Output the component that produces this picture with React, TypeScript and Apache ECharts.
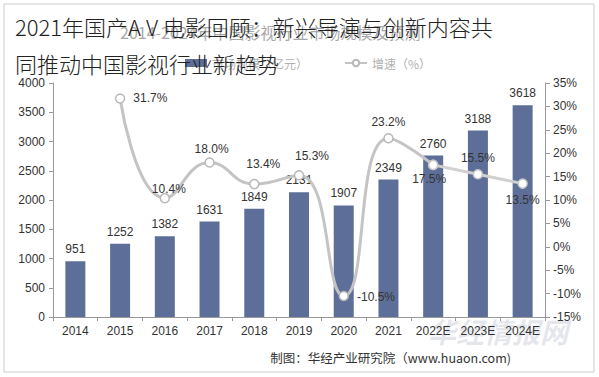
import React, { useEffect, useRef } from "react";
import * as echarts from "echarts";

const categories = ["2014", "2015", "2016", "2017", "2018", "2019", "2020", "2021", "2022E", "2023E", "2024E"];
const marketSize = [951, 1252, 1382, 1631, 1849, 2131, 1907, 2349, 2760, 3188, 3618];
const growthActual = [null, 31.7, 10.4, 18.0, 13.4, 15.3, -10.5, 23.2, 17.5, null, null];
const growthForecast = [null, null, null, null, null, null, null, null, 17.5, 15.5, 13.5];

// label placement per point (style only)
const actualLabelPlace: any[] = [
  null,
  { position: "right", distance: 8, offset: [0, 0] },
  { position: "top", offset: [4, 7] },
  { position: "top", offset: [2, 3] },
  { position: "top", offset: [9, -4] },
  { position: "top", offset: [13, -3] },
  { position: "right", distance: 8, offset: [0, 1] },
  { position: "top", offset: [0, 0] },
  { position: "bottom", offset: [-4, -2] },
  null,
  null,
];
const forecastLabelPlace: any[] = [
  null, null, null, null, null, null, null, null,
  { show: false },
  { position: "top", offset: [0, 0] },
  { position: "bottom", offset: [0, 0] },
];

const NUM_FONT = "'Liberation Sans', Arial, sans-serif";
const CJK_FONT = "'Noto Sans CJK SC', 'Noto Sans', sans-serif";

export default function App() {
  const ref = useRef<HTMLDivElement>(null);
  useEffect(() => {
    if (!ref.current) return;
    const chart = echarts.init(ref.current, null, { renderer: "svg" });
    const fmt = (p: any) => (p.value == null ? "" : Number(p.value).toFixed(1) + "%");
    const mk = (vals: any[], places: any[]) =>
      vals.map((v, i) =>
        v == null
          ? null
          : { value: v, label: { show: true, ...(places[i] || {}) } }
      );
    chart.setOption({
      animation: false,
      backgroundColor: "#ffffff",
      textStyle: { fontFamily: NUM_FONT },
      title: [
        {
          text: "2014-2024年中国影视行业市场规模及预测",
          left: 115,
          top: 19,
          textStyle: { fontSize: 16, color: "#a8a8a8", fontWeight: "normal", fontFamily: CJK_FONT },
        },
        {
          text: "2021年国产A V 电影回顾：新兴导演与创新内容共\n同推动中国影视行业新趋势",
          left: 10,
          top: 2,
          textStyle: {
            fontSize: 22,
            lineHeight: 37,
            color: "#222222",
            fontWeight: 300,
            fontFamily: CJK_FONT,
          },
        },
      ],
      legend: {
        left: 180,
        top: 52,
        itemGap: 36,
        itemWidth: 22,
        itemHeight: 8,
        textStyle: { fontSize: 12, color: "#b0b0b0", fontFamily: CJK_FONT },
        data: [
          { name: "市场规模（亿元）", icon: "rect" },
          { name: "增速（%）" },
        ],
      },
      grid: { left: 53, right: 54, top: 83, bottom: 60 },
      xAxis: {
        type: "category",
        data: categories,
        axisLine: { lineStyle: { color: "#999999" } },
        axisTick: { show: true, length: 4, lineStyle: { color: "#999999" } },
        axisLabel: { color: "#333333", fontSize: 12, margin: 8, interval: 0 },
      },
      yAxis: [
        {
          type: "value",
          min: 0,
          max: 4000,
          interval: 500,
          splitLine: { show: false },
          axisLine: { show: true, lineStyle: { color: "#999999" } },
          axisTick: { show: true, length: 4, lineStyle: { color: "#999999" } },
          axisLabel: { color: "#333333", fontSize: 12, margin: 8, formatter: (v: number) => String(v) },
        },
        {
          type: "value",
          min: -15,
          max: 35,
          interval: 5,
          position: "right",
          splitLine: { show: false },
          axisLine: { show: true, lineStyle: { color: "#999999" } },
          axisTick: { show: true, length: 5, lineStyle: { color: "#999999" } },
          axisLabel: { color: "#333333", fontSize: 12, margin: 8, formatter: "{value}%" },
        },
      ],
      series: [
        {
          name: "市场规模（亿元）",
          type: "bar",
          data: marketSize,
          barWidth: 20,
          itemStyle: { color: "#5d6f98" },
          label: { show: true, position: "top", distance: 6, color: "#333333", fontSize: 12 },
        },
        {
          name: "增速（%）",
          type: "line",
          yAxisIndex: 1,
          smooth: 0.5,
          data: mk(growthActual, actualLabelPlace),
          symbol: "circle",
          symbolSize: 9,
          lineStyle: { color: "#c4c4c4", width: 3 },
          itemStyle: { color: "#ffffff", borderColor: "#b8b8b8", borderWidth: 1.5 },
          label: { show: true, color: "#333333", fontSize: 12, formatter: fmt },
          z: 5,
        },
        {
          name: "增速（%）",
          type: "line",
          yAxisIndex: 1,
          data: mk(growthForecast, forecastLabelPlace),
          symbol: "circle",
          symbolSize: 9,
          lineStyle: { color: "#d0d0d0", width: 3 },
          itemStyle: { color: "#ffffff", borderColor: "#c8c8c8", borderWidth: 1.5 },
          label: { show: true, color: "#333333", fontSize: 12, formatter: fmt },
          z: 5,
        },
      ],
      graphic: [
        {
          type: "rect",
          shape: { x: 4, y: 4, width: 590, height: 368 },
          style: { fill: "none", stroke: "#cccccc", lineWidth: 1 },
          silent: true,
          z: -1,
        },
        {
          type: "text",
          left: 428,
          top: 317,
          style: {
            text: "华经情报网",
            fontSize: 28,
            fontWeight: "bold",
            fontStyle: "italic",
            fill: "rgba(150,158,175,0.25)",
            fontFamily: CJK_FONT,
          },
          silent: true,
          z: -1,
        },
        {
          type: "text",
          right: 88,
          top: 351,
          style: {
            text: "制图：华经产业研究院（www.huaon.com)",
            fontSize: 12.5,
            fill: "#333333",
            fontFamily: CJK_FONT,
          },
          silent: true,
        },
      ],
    });
    return () => chart.dispose();
  }, []);
  return (
    <div
      ref={ref}
      style={{ position: "fixed", left: 0, top: 0, width: 599, height: 377 }}
    />
  );
}
